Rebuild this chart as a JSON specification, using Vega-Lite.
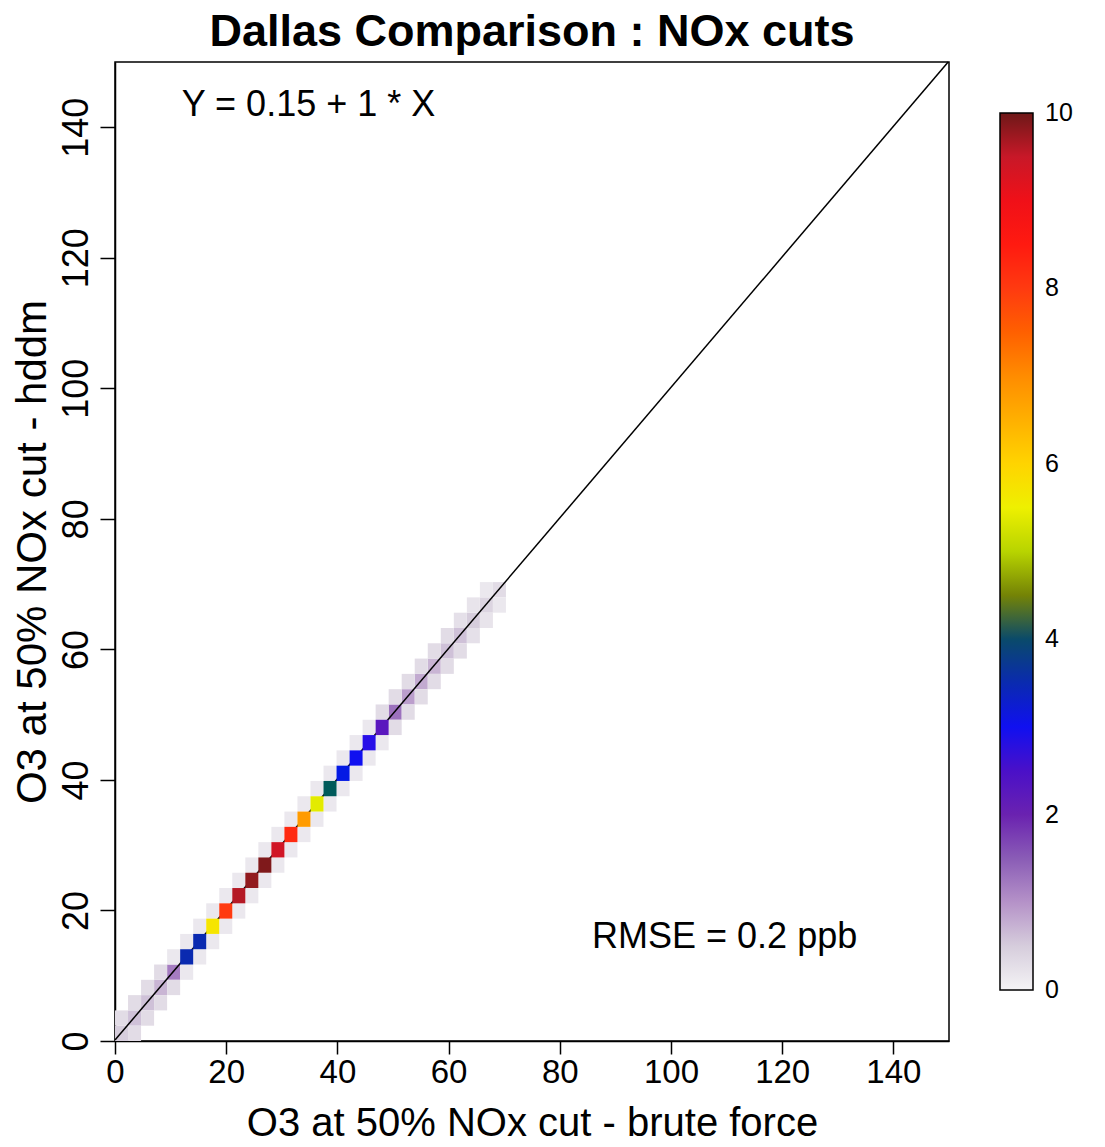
{
 "$schema": "https://vega.github.io/schema/vega-lite/v6.json",
 "width": 834,
 "height": 979,
 "autosize": {"type": "none"},
 "padding": {"left": 115, "top": 62, "right": 156, "bottom": 106},
 "background": "white",
 "title": {"text": "Dallas Comparison : NOx cuts", "fontSize": 45, "fontWeight": "bold", "font": "Liberation Sans", "anchor": "middle", "offset": 4, "color": "black"},
 "config": {
  "font": "Liberation Sans",
  "view": {"stroke": "black", "strokeWidth": 1.5},
  "axis": {"grid": false, "domainColor": "black", "tickColor": "black", "labelColor": "black", "titleColor": "black", "titleFontWeight": "normal", "labelFont": "Liberation Sans", "titleFont": "Liberation Sans", "domainWidth": 1.5, "tickWidth": 1.5, "labelFlush": false, "labelOverlap": false},
  "axisX": {"labelFontSize": 33, "titleFontSize": 40, "tickSize": 13, "labelPadding": 2, "titlePadding": 14},
  "axisY": {"labelFontSize": 36, "titleFontSize": 42, "tickSize": 15, "labelPadding": 5, "titlePadding": 4, "labelAngle": 270, "labelAlign": "center", "labelBaseline": "bottom"}
 },
 "datasets": {
  "cells": [
   {"x0":0,"x1":2.344,"y0":0,"y1":2.344,"v":0.5},
   {"x0":2.344,"x1":4.688,"y0":2.344,"y1":4.688,"v":0.6},
   {"x0":4.688,"x1":7.031,"y0":4.688,"y1":7.031,"v":0.6},
   {"x0":7.031,"x1":9.375,"y0":7.031,"y1":9.375,"v":0.7},
   {"x0":9.375,"x1":11.719,"y0":9.375,"y1":11.719,"v":1.2},
   {"x0":11.719,"x1":14.063,"y0":11.719,"y1":14.063,"v":3.5},
   {"x0":14.063,"x1":16.406,"y0":14.063,"y1":16.406,"v":3.5},
   {"x0":16.406,"x1":18.75,"y0":16.406,"y1":18.75,"v":5.7},
   {"x0":18.75,"x1":21.094,"y0":18.75,"y1":21.094,"v":8.0},
   {"x0":21.094,"x1":23.438,"y0":21.094,"y1":23.438,"v":9.6},
   {"x0":23.438,"x1":25.781,"y0":23.438,"y1":25.781,"v":9.8},
   {"x0":25.781,"x1":28.125,"y0":25.781,"y1":28.125,"v":9.9},
   {"x0":28.125,"x1":30.469,"y0":28.125,"y1":30.469,"v":9.4},
   {"x0":30.469,"x1":32.813,"y0":30.469,"y1":32.813,"v":8.3},
   {"x0":32.813,"x1":35.156,"y0":32.813,"y1":35.156,"v":6.8},
   {"x0":35.156,"x1":37.5,"y0":35.156,"y1":37.5,"v":5.4},
   {"x0":37.5,"x1":39.844,"y0":37.5,"y1":39.844,"v":4.2},
   {"x0":39.844,"x1":42.188,"y0":39.844,"y1":42.188,"v":3.1},
   {"x0":42.188,"x1":44.531,"y0":42.188,"y1":44.531,"v":3.0},
   {"x0":44.531,"x1":46.875,"y0":44.531,"y1":46.875,"v":2.9},
   {"x0":46.875,"x1":49.219,"y0":46.875,"y1":49.219,"v":2.3},
   {"x0":49.219,"x1":51.563,"y0":49.219,"y1":51.563,"v":1.3},
   {"x0":51.563,"x1":53.906,"y0":51.563,"y1":53.906,"v":0.9},
   {"x0":53.906,"x1":56.25,"y0":53.906,"y1":56.25,"v":0.8},
   {"x0":56.25,"x1":58.594,"y0":56.25,"y1":58.594,"v":0.7},
   {"x0":58.594,"x1":60.938,"y0":58.594,"y1":60.938,"v":0.6},
   {"x0":60.938,"x1":63.281,"y0":60.938,"y1":63.281,"v":0.6},
   {"x0":63.281,"x1":65.625,"y0":63.281,"y1":65.625,"v":0.5},
   {"x0":65.625,"x1":67.969,"y0":65.625,"y1":67.969,"v":0.4},
   {"x0":67.969,"x1":70.313,"y0":67.969,"y1":70.313,"v":0.3},

   {"x0":0,"x1":2.344,"y0":2.344,"y1":4.688,"v":0.3},
   {"x0":2.344,"x1":4.688,"y0":0,"y1":2.344,"v":0.3},
   {"x0":2.344,"x1":4.688,"y0":4.688,"y1":7.031,"v":0.3},
   {"x0":4.688,"x1":7.031,"y0":2.344,"y1":4.688,"v":0.3},
   {"x0":4.688,"x1":7.031,"y0":7.031,"y1":9.375,"v":0.3},
   {"x0":7.031,"x1":9.375,"y0":4.688,"y1":7.031,"v":0.3},
   {"x0":7.031,"x1":9.375,"y0":9.375,"y1":11.719,"v":0.3},
   {"x0":9.375,"x1":11.719,"y0":7.031,"y1":9.375,"v":0.3},
   {"x0":9.375,"x1":11.719,"y0":11.719,"y1":14.063,"v":0.15},
   {"x0":11.719,"x1":14.063,"y0":9.375,"y1":11.719,"v":0.15},
   {"x0":11.719,"x1":14.063,"y0":14.063,"y1":16.406,"v":0.15},
   {"x0":14.063,"x1":16.406,"y0":11.719,"y1":14.063,"v":0.15},
   {"x0":14.063,"x1":16.406,"y0":16.406,"y1":18.75,"v":0.15},
   {"x0":16.406,"x1":18.75,"y0":14.063,"y1":16.406,"v":0.15},
   {"x0":16.406,"x1":18.75,"y0":18.75,"y1":21.094,"v":0.15},
   {"x0":18.75,"x1":21.094,"y0":16.406,"y1":18.75,"v":0.15},
   {"x0":18.75,"x1":21.094,"y0":21.094,"y1":23.438,"v":0.15},
   {"x0":21.094,"x1":23.438,"y0":18.75,"y1":21.094,"v":0.15},
   {"x0":21.094,"x1":23.438,"y0":23.438,"y1":25.781,"v":0.15},
   {"x0":23.438,"x1":25.781,"y0":21.094,"y1":23.438,"v":0.15},
   {"x0":23.438,"x1":25.781,"y0":25.781,"y1":28.125,"v":0.15},
   {"x0":25.781,"x1":28.125,"y0":23.438,"y1":25.781,"v":0.15},
   {"x0":25.781,"x1":28.125,"y0":28.125,"y1":30.469,"v":0.15},
   {"x0":28.125,"x1":30.469,"y0":25.781,"y1":28.125,"v":0.15},
   {"x0":28.125,"x1":30.469,"y0":30.469,"y1":32.813,"v":0.15},
   {"x0":30.469,"x1":32.813,"y0":28.125,"y1":30.469,"v":0.15},
   {"x0":30.469,"x1":32.813,"y0":32.813,"y1":35.156,"v":0.15},
   {"x0":32.813,"x1":35.156,"y0":30.469,"y1":32.813,"v":0.15},
   {"x0":32.813,"x1":35.156,"y0":35.156,"y1":37.5,"v":0.15},
   {"x0":35.156,"x1":37.5,"y0":32.813,"y1":35.156,"v":0.15},
   {"x0":35.156,"x1":37.5,"y0":37.5,"y1":39.844,"v":0.15},
   {"x0":37.5,"x1":39.844,"y0":35.156,"y1":37.5,"v":0.15},
   {"x0":37.5,"x1":39.844,"y0":39.844,"y1":42.188,"v":0.15},
   {"x0":39.844,"x1":42.188,"y0":37.5,"y1":39.844,"v":0.15},
   {"x0":39.844,"x1":42.188,"y0":42.188,"y1":44.531,"v":0.15},
   {"x0":42.188,"x1":44.531,"y0":39.844,"y1":42.188,"v":0.15},
   {"x0":42.188,"x1":44.531,"y0":44.531,"y1":46.875,"v":0.15},
   {"x0":44.531,"x1":46.875,"y0":42.188,"y1":44.531,"v":0.15},
   {"x0":44.531,"x1":46.875,"y0":46.875,"y1":49.219,"v":0.15},
   {"x0":46.875,"x1":49.219,"y0":44.531,"y1":46.875,"v":0.15},
   {"x0":46.875,"x1":49.219,"y0":49.219,"y1":51.563,"v":0.3},
   {"x0":49.219,"x1":51.563,"y0":46.875,"y1":49.219,"v":0.3},
   {"x0":49.219,"x1":51.563,"y0":51.563,"y1":53.906,"v":0.3},
   {"x0":51.563,"x1":53.906,"y0":49.219,"y1":51.563,"v":0.3},
   {"x0":51.563,"x1":53.906,"y0":53.906,"y1":56.25,"v":0.3},
   {"x0":53.906,"x1":56.25,"y0":51.563,"y1":53.906,"v":0.3},
   {"x0":53.906,"x1":56.25,"y0":56.25,"y1":58.594,"v":0.3},
   {"x0":56.25,"x1":58.594,"y0":53.906,"y1":56.25,"v":0.3},
   {"x0":56.25,"x1":58.594,"y0":58.594,"y1":60.938,"v":0.3},
   {"x0":58.594,"x1":60.938,"y0":56.25,"y1":58.594,"v":0.3},
   {"x0":58.594,"x1":60.938,"y0":60.938,"y1":63.281,"v":0.3},
   {"x0":60.938,"x1":63.281,"y0":58.594,"y1":60.938,"v":0.3},
   {"x0":60.938,"x1":63.281,"y0":63.281,"y1":65.625,"v":0.25},
   {"x0":63.281,"x1":65.625,"y0":60.938,"y1":63.281,"v":0.25},
   {"x0":63.281,"x1":65.625,"y0":65.625,"y1":67.969,"v":0.2},
   {"x0":65.625,"x1":67.969,"y0":63.281,"y1":65.625,"v":0.2},
   {"x0":65.625,"x1":67.969,"y0":67.969,"y1":70.313,"v":0.15},
   {"x0":67.969,"x1":70.313,"y0":65.625,"y1":67.969,"v":0.15}
  ],
  "fit": [{"x": 0, "y": 0.15}, {"x": 149.85, "y": 150}],
  "notes": [
   {"x": 12, "y": 143.4, "label": "Y = 0.15 + 1 * X"},
   {"x": 85.8, "y": 16, "label": "RMSE = 0.2 ppb"}
  ]
 },
 "layer": [
  {
   "data": {"name": "cells"},
   "transform": [{"filter": "datum.v < 2"}],
   "mark": {"type": "rect", "strokeWidth": 0},
   "encoding": {
    "x": {"field": "x0", "type": "quantitative", "scale": {"domain": [0, 150], "nice": false, "zero": false}, "axis": {"values": [0, 20, 40, 60, 80, 100, 120, 140]}, "title": "O3 at 50% NOx cut - brute force"},
    "x2": {"field": "x1"},
    "y": {"field": "y0", "type": "quantitative", "scale": {"domain": [0, 150], "nice": false, "zero": false}, "axis": {"values": [0, 20, 40, 60, 80, 100, 120, 140]}, "title": "O3 at 50% NOx cut - hddm"},
    "y2": {"field": "y1"},
    "color": {
     "field": "v", "type": "quantitative",
     "scale": {"type": "linear", "domain": [0, 0.5, 1, 1.5, 2, 2.5, 3, 3.5, 4, 4.39, 4.41, 4.7, 5, 5.5, 6, 6.5, 7, 7.5, 8, 8.5, 9, 9.5, 10],
      "range": ["#f4f3f5", "#d6cddc", "#b592c8", "#8a5cb6", "#6a22b0", "#4a10c8", "#1010f0", "#0a2ab0", "#0a4a6a", "#0a6428", "#6a7808", "#8a9c00", "#b8d400", "#eef000", "#ffd400", "#ffb000", "#ff8c00", "#ff6000", "#ff3a10", "#ff1a10", "#f01018", "#c81828", "#6e1818"], "clamp": true},
     "legend": {"orient": "none", "legendX": 885, "legendY": 51, "direction": "vertical", "gradientLength": 877, "gradientThickness": 33, "title": null, "values": [0, 2, 4, 6, 8, 10], "format": "d", "labelFontSize": 25, "labelOffset": 12, "labelColor": "black", "gradientStrokeColor": "black", "gradientStrokeWidth": 1.5, "labelOverlap": false, "encode": {"labels": {"update": {"baseline": {"value": "middle"}}}}}
    }
   }
  },
  {
   "data": {"name": "fit"},
   "mark": {"type": "line", "color": "black", "strokeWidth": 1.5},
   "encoding": {
    "x": {"field": "x", "type": "quantitative", "scale": {"domain": [0, 150], "nice": false, "zero": false}, "axis": {"values": [0, 20, 40, 60, 80, 100, 120, 140]}, "title": "O3 at 50% NOx cut - brute force"},
    "y": {"field": "y", "type": "quantitative", "scale": {"domain": [0, 150], "nice": false, "zero": false}, "axis": {"values": [0, 20, 40, 60, 80, 100, 120, 140]}, "title": "O3 at 50% NOx cut - hddm"}
   }
  },
  {
   "data": {"name": "cells"},
   "transform": [{"filter": "datum.v >= 2"}],
   "mark": {"type": "rect", "strokeWidth": 0},
   "encoding": {
    "x": {"field": "x0", "type": "quantitative", "scale": {"domain": [0, 150], "nice": false, "zero": false}, "axis": {"values": [0, 20, 40, 60, 80, 100, 120, 140]}, "title": "O3 at 50% NOx cut - brute force"},
    "x2": {"field": "x1"},
    "y": {"field": "y0", "type": "quantitative", "scale": {"domain": [0, 150], "nice": false, "zero": false}, "axis": {"values": [0, 20, 40, 60, 80, 100, 120, 140]}, "title": "O3 at 50% NOx cut - hddm"},
    "y2": {"field": "y1"},
    "color": {
     "field": "v", "type": "quantitative",
     "scale": {"type": "linear", "domain": [0, 0.5, 1, 1.5, 2, 2.5, 3, 3.5, 4, 4.39, 4.41, 4.7, 5, 5.5, 6, 6.5, 7, 7.5, 8, 8.5, 9, 9.5, 10],
      "range": ["#f4f3f5", "#d6cddc", "#b592c8", "#8a5cb6", "#6a22b0", "#4a10c8", "#1010f0", "#0a2ab0", "#0a4a6a", "#0a6428", "#6a7808", "#8a9c00", "#b8d400", "#eef000", "#ffd400", "#ffb000", "#ff8c00", "#ff6000", "#ff3a10", "#ff1a10", "#f01018", "#c81828", "#6e1818"], "clamp": true},
     "legend": {"orient": "none", "legendX": 885, "legendY": 51, "direction": "vertical", "gradientLength": 877, "gradientThickness": 33, "title": null, "values": [0, 2, 4, 6, 8, 10], "format": "d", "labelFontSize": 25, "labelOffset": 12, "labelColor": "black", "gradientStrokeColor": "black", "gradientStrokeWidth": 1.5, "labelOverlap": false, "encode": {"labels": {"update": {"baseline": {"value": "middle"}}}}}
    }
   }
  },
  {
   "data": {"name": "notes"},
   "mark": {"type": "text", "align": "left", "baseline": "middle", "fontSize": 36, "color": "black", "font": "Liberation Sans"},
   "encoding": {
    "x": {"field": "x", "type": "quantitative", "scale": {"domain": [0, 150], "nice": false, "zero": false}, "axis": {"values": [0, 20, 40, 60, 80, 100, 120, 140]}, "title": "O3 at 50% NOx cut - brute force"},
    "y": {"field": "y", "type": "quantitative", "scale": {"domain": [0, 150], "nice": false, "zero": false}, "axis": {"values": [0, 20, 40, 60, 80, 100, 120, 140]}, "title": "O3 at 50% NOx cut - hddm"},
    "text": {"field": "label", "type": "nominal"}
   }
  }
 ]
}
